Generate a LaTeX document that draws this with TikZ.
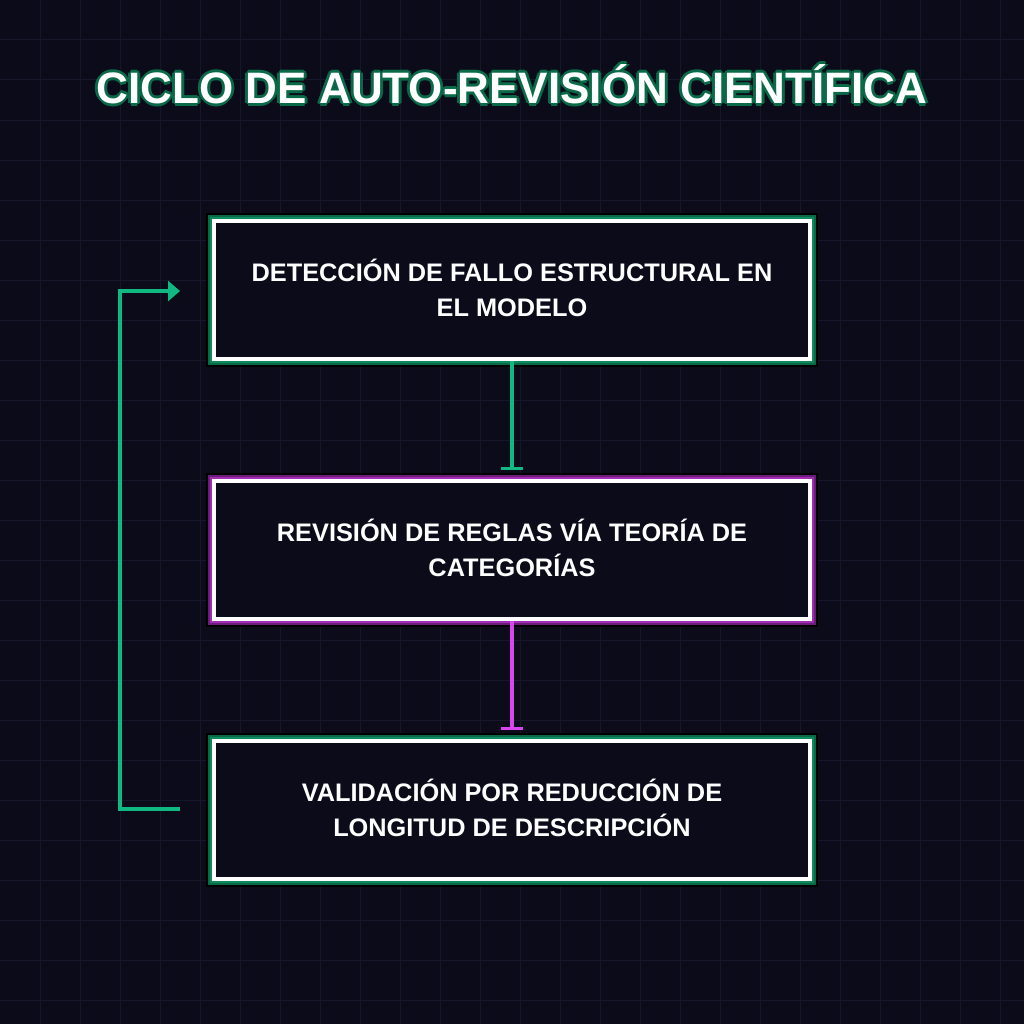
\documentclass[tikz,border=0pt]{standalone}
\usepackage{fontspec}
\setmainfont{Liberation Sans}
\usetikzlibrary{arrows.meta}
\definecolor{bg}{HTML}{0B0B1A}
\definecolor{gridc}{HTML}{17172B}
\definecolor{gA}{HTML}{10B981}
\definecolor{gD}{HTML}{0A6A47}
\definecolor{gM}{HTML}{0E8A5E}
\definecolor{pA}{HTML}{D946EF}
\definecolor{pD}{HTML}{6B1E78}
\definecolor{pM}{HTML}{A22DB5}
\tikzset{
  boxtxt/.style={text=white,font=\bfseries\fontsize{19}{26}\selectfont,align=center},
  conn/.style={line width=2.4pt}
}
\newcommand{\mybox}[5]{% name, top y, dark, mid, text
  \fill[black] (206,#2) rectangle (818,#2+154);
  \fill[#3] (208,#2+2) rectangle (816,#2+152);
  \fill[#4] (210,#2+4) rectangle (814,#2+150);
  \fill[white] (212,#2+6) rectangle (812,#2+148);
  \fill[bg] (216,#2+10) rectangle (808,#2+144);
  \node[boxtxt] (#1) at (512,#2+75) {#5};
  \coordinate (#1t) at (512,#2+6);
  \coordinate (#1b) at (512,#2+148);
}
\begin{document}
\begin{tikzpicture}[x=0.75pt,y=-0.75pt]
\fill[bg] (0,0) rectangle (1024,1024);
\useasboundingbox (0,0) rectangle (1024,1024);
\foreach \i in {40,80,...,1000}{
  \draw[gridc,line width=0.75pt] (\i,0) -- (\i,1024);
  \draw[gridc,line width=0.75pt] (0,\i) -- (1024,\i);
}
% title glow
\foreach \dx/\dy in {-2/0,2/0,0/-2,0/2,-1.5/-1.5,1.5/1.5,-1.5/1.5,1.5/-1.5,-3/0,3/0,0/3,0/-3}{
  \node[text=gD,font=\bfseries\fontsize{33}{36}\selectfont] at (512+\dx,84+\dy) {CICLO DE AUTO-REVISIÓN CIENTÍFICA};
}
\node[text=white,font=\bfseries\fontsize{33}{36}\selectfont] (title) at (512,84) {CICLO DE AUTO-REVISIÓN CIENTÍFICA};
\mybox{b1}{213}{gD}{gM}{DETECCIÓN DE FALLO ESTRUCTURAL EN\\EL MODELO}
\mybox{b2}{473}{pD}{pM}{REVISIÓN DE REGLAS VÍA TEORÍA DE\\CATEGORÍAS}
\mybox{b3}{733}{gD}{gM}{VALIDACIÓN POR REDUCCIÓN DE\\LONGITUD DE DESCRIPCIÓN}
\coordinate (a1) at (512,470);
\coordinate (a2) at (512,730);
\draw[conn,gA,-{Bar[width=16pt,line width=2.4pt]}] (b1b) -- (a1);
\draw[conn,pA,-{Bar[width=16pt,line width=2.4pt]}] (b2b) -- (a2);
\coordinate (l1) at (180,809);
\coordinate (l2) at (180,291);
\draw[conn,gA,-{Triangle[length=9pt,width=15pt]}] (l1) -- (120,809) -- (120,291) -- (l2);
\end{tikzpicture}
\end{document}
